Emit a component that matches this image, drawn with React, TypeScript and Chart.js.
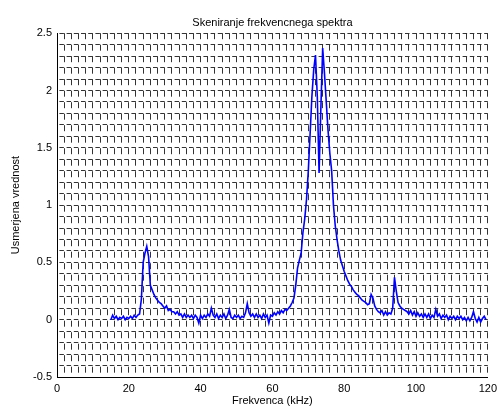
import React, { useEffect, useRef } from 'react';
import { Chart, registerables } from 'chart.js';
Chart.register(...registerables);

// Frequency samples (kHz)
const freqKHz = [
  15, 15.5, 16, 16.5, 17, 17.5, 18, 18.5, 19, 19.5,
  20, 20.5, 21, 21.5, 22, 22.5, 23, 23.5, 24, 24.5,
  25, 25.5, 26, 26.5, 27, 27.5, 28, 28.5, 29, 29.5,
  30, 30.5, 31, 31.5, 32, 32.5, 33, 33.5, 34, 34.5,
  35, 35.5, 36, 36.5, 37, 37.5, 38, 38.5, 39, 39.5,
  40, 40.5, 41, 41.5, 42, 42.5, 43, 43.5, 44, 44.5,
  45, 45.5, 46, 46.5, 47, 47.5, 48, 48.5, 49, 49.5,
  50, 50.5, 51, 51.5, 52, 52.5, 53, 53.5, 54, 54.5,
  55, 55.5, 56, 56.5, 57, 57.5, 58, 58.5, 59, 59.5,
  60, 60.5, 61, 61.5, 62, 62.5, 63, 63.5, 64, 64.5,
  65, 65.5, 66, 66.5, 67, 67.5, 68, 68.5, 69, 69.5,
  70, 70.5, 71, 71.5, 72, 72.5, 73, 73.5, 74, 74.5,
  75, 75.5, 76, 76.5, 77, 77.5, 78, 78.5, 79, 79.5,
  80, 80.5, 81, 81.5, 82, 82.5, 83, 83.5, 84, 84.5,
  85, 85.5, 86, 86.5, 87, 87.5, 88, 88.5, 89, 89.5,
  90, 90.5, 91, 91.5, 92, 92.5, 93, 93.5, 94, 94.5,
  95, 95.5, 96, 96.5, 97, 97.5, 98, 98.5, 99, 99.5,
  100, 100.5, 101, 101.5, 102, 102.5, 103, 103.5, 104, 104.5,
  105, 105.5, 106, 106.5, 107, 107.5, 108, 108.5, 109, 109.5,
  110, 110.5, 111, 111.5, 112, 112.5, 113, 113.5, 114, 114.5,
  115, 115.5, 116, 116.5, 117, 117.5, 118, 118.5, 119, 119.5,
];

// Rectified value
const measured = [
  0.00, 0.04, 0.01, 0.03, 0.00, 0.02, 0.01, 0.03, 0.00, 0.02,
  0.01, 0.03, 0.01, 0.04, 0.02, 0.04, 0.05, 0.18, 0.50, 0.58,
  0.64, 0.55, 0.30, 0.26, 0.22, 0.19, 0.17, 0.15, 0.14, 0.12,
  0.10, 0.12, 0.08, 0.09, 0.07, 0.07, 0.05, 0.07, 0.04, 0.05,
  0.02, 0.05, 0.02, 0.04, 0.02, 0.04, 0.01, 0.04, 0.02, -0.03,
  0.04, 0.01, 0.04, 0.02, 0.05, 0.03, 0.10, 0.04, 0.02, 0.05,
  0.01, 0.04, 0.02, 0.05, 0.01, 0.04, 0.09, 0.02, 0.01, 0.04,
  0.02, 0.04, 0.01, 0.03, 0.02, 0.06, 0.14, 0.06, 0.03, 0.05,
  0.02, 0.05, 0.02, 0.04, 0.01, 0.05, 0.02, 0.04, -0.03, 0.04,
  0.03, 0.06, 0.04, 0.07, 0.05, 0.08, 0.06, 0.09, 0.08, 0.10,
  0.12, 0.15, 0.19, 0.30, 0.45, 0.52, 0.58, 0.76, 0.88, 1.05,
  1.30, 1.62, 1.95, 2.18, 2.31, 1.95, 1.28, 1.85, 2.37, 2.15,
  1.90, 1.65, 1.45, 1.30, 1.00, 0.82, 0.70, 0.60, 0.52, 0.47,
  0.42, 0.38, 0.34, 0.31, 0.29, 0.26, 0.24, 0.22, 0.21, 0.19,
  0.17, 0.16, 0.15, 0.13, 0.14, 0.22, 0.19, 0.12, 0.09, 0.07,
  0.06, 0.08, 0.04, 0.07, 0.04, 0.06, 0.05, 0.10, 0.37, 0.25,
  0.15, 0.12, 0.10, 0.09, 0.08, 0.07, 0.05, 0.08, 0.04, 0.07,
  0.03, 0.06, 0.03, 0.05, 0.02, 0.05, 0.02, 0.05, 0.01, 0.04,
  0.02, 0.09, 0.03, 0.05, 0.01, 0.04, 0.02, 0.04, 0.00, 0.03,
  0.01, 0.03, 0.00, 0.03, 0.01, 0.03, 0.00, 0.02, -0.01, 0.02,
  -0.01, 0.02, 0.07, 0.01, -0.02, 0.02, -0.02, 0.01, 0.03, 0.00,
];

const xTickLabels = [0, 20, 40, 60, 80, 100, 120];
const yTickLabels = [-0.5, 0, 0.5, 1, 1.5, 2, 2.5];

const FONT = { family: "'Liberation Sans', Arial, sans-serif", size: 11, weight: 'normal' as const };

export default function App() {
  const ref = useRef<HTMLCanvasElement>(null);
  useEffect(() => {
    document.body.style.margin = '0';
    const chart = new Chart(ref.current!, {
      type: 'line',
      data: {
        datasets: [
          {
            data: freqKHz.map((x, i) => ({ x, y: measured[i] })),
            borderColor: '#0000ff',
            borderWidth: 1.6,
            pointRadius: 0,
            tension: 0,
            fill: false,
          },
        ],
      },
      options: {
        animation: false,
        responsive: false,
        layout: { padding: { left: 0, right: 13, top: 0, bottom: 0 } },
        plugins: {
          legend: { display: false },
          tooltip: { enabled: false },
          title: {
            display: true,
            text: 'Skeniranje frekvencnega spektra',
            fullSize: false,
            color: '#000',
            font: FONT,
            padding: { top: 16, bottom: 4 },
          },
        },
        scales: {
          x: {
            type: 'linear',
            min: 0,
            max: 120,
            afterFit: (s: any) => { s.height = 35; },
            ticks: {
              stepSize: 2,
              autoSkip: false,
              maxRotation: 0,
              minRotation: 0,
              padding: 5,
              color: '#000',
              font: FONT,
              callback: (v: any) => (xTickLabels.some((t) => Math.abs(t - v) < 1e-6) ? String(Math.round(v)) : ''),
            },
            grid: { color: '#333', lineWidth: 1, drawTicks: false },
            border: { display: true, color: '#000', width: 1, dash: [6, 5.5], dashOffset: 0 },
            title: {
              display: true,
              text: 'Frekvenca (kHz)',
              color: '#000',
              font: FONT,
              padding: { top: 0, bottom: 4 },
            },
          },
          y: {
            type: 'linear',
            min: -0.5,
            max: 2.5,
            afterFit: (s: any) => { s.width = 57; },
            ticks: {
              stepSize: 0.1,
              autoSkip: false,
              padding: 5,
              color: '#000',
              font: FONT,
              callback: (v: any) => {
                const t = yTickLabels.find((t) => Math.abs(t - v) < 1e-6);
                return t === undefined ? '' : String(t);
              },
            },
            grid: { color: '#333', lineWidth: 1, drawTicks: false },
            border: { display: true, color: '#000', width: 1, dash: [4.5, 2.7], dashOffset: 5.8 },
            title: {
              display: true,
              text: 'Usmerjena vrednost',
              color: '#000',
              font: FONT,
              padding: { top: 9, bottom: 0 },
            },
          },
        },
      },
    });
    return () => chart.destroy();
  }, []);
  return (
    <div style={{ position: 'absolute', left: 0, top: 0, width: 502, height: 412 }}>
      <canvas ref={ref} width={502} height={412} style={{ display: 'block', width: 502, height: 412 }} />
    </div>
  );
}
